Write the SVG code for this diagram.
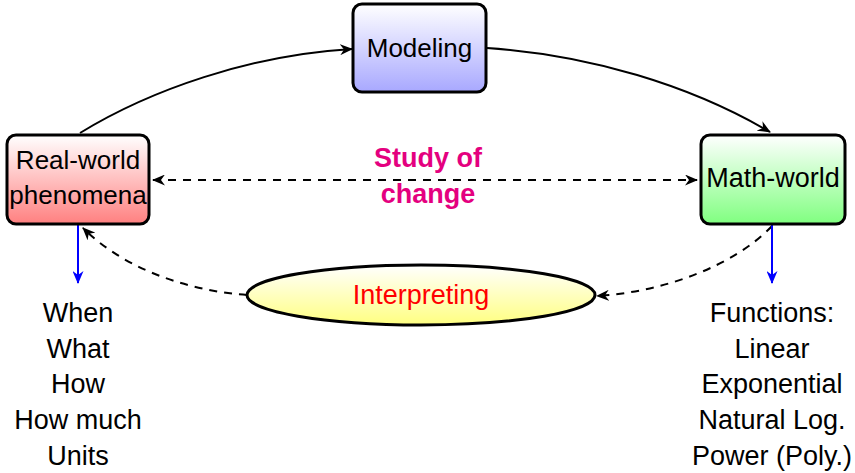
<svg xmlns="http://www.w3.org/2000/svg" width="855" height="473" viewBox="0 0 855 473">
<style>
.box{stroke:#000;stroke-width:3}
.t{font-family:"Liberation Sans",Arial,sans-serif;font-size:26px;text-anchor:middle;fill:#000}
.l{font-size:27px}
.red{fill:#ff0000}
.sc{font-family:"Liberation Sans",Arial,sans-serif;font-size:27px;font-weight:bold;text-anchor:middle;fill:#e4007f}
.c{fill:none;stroke:#000;stroke-width:2}
.d{stroke-dasharray:8 7}
.b{fill:none;stroke:#0000ff;stroke-width:2}
</style>
<defs>
<linearGradient id="gr" x1="0" y1="0" x2="0" y2="1"><stop offset="0" stop-color="#ffffff"/><stop offset="1" stop-color="#ff8080"/></linearGradient>
<linearGradient id="gb" x1="0" y1="0" x2="0" y2="1"><stop offset="0" stop-color="#ffffff"/><stop offset="1" stop-color="#a8a8ff"/></linearGradient>
<linearGradient id="gg" x1="0" y1="0" x2="0" y2="1"><stop offset="0" stop-color="#ffffff"/><stop offset="1" stop-color="#80ff80"/></linearGradient>
<linearGradient id="gy" x1="0" y1="0" x2="0" y2="1"><stop offset="0" stop-color="#ffffff"/><stop offset="1" stop-color="#ffff80"/></linearGradient>
<marker id="ak" viewBox="0 0 13 11" refX="12" refY="5.5" markerWidth="13" markerHeight="11" markerUnits="userSpaceOnUse" orient="auto-start-reverse">
<path d="M0,0 L13,5.5 L0,11 L4,5.5 z" fill="#000"/>
</marker>
<marker id="ab" viewBox="0 0 13 11" refX="12" refY="5.5" markerWidth="13" markerHeight="11" markerUnits="userSpaceOnUse" orient="auto">
<path d="M0,0 L13,5.5 L0,11 L4,5.5 z" fill="#0000ff"/>
</marker>
</defs>

<g id="connectors">
<path class="c" d="M80,133 C150,90 250,55 352,49" marker-end="url(#ak)"/>
<path class="c" d="M487,48 C590,55 690,85 770,132" marker-end="url(#ak)"/>
<path class="c d" d="M153,180 L697,180" marker-start="url(#ak)" marker-end="url(#ak)"/>
<path class="c d" d="M772,226 C735,265 665,292 597,296" marker-end="url(#ak)"/>
<path class="c d" d="M247,295 C180,290 120,265 83,228" marker-end="url(#ak)"/>
<path class="b" d="M78,225 L78,283" marker-end="url(#ab)"/>
<path class="b" d="M772,225 L772,283" marker-end="url(#ab)"/>
</g>

<g id="modeling">
<rect class="box" x="353" y="4" width="133" height="88" rx="9" fill="url(#gb)"/>
<text class="t" x="419.5" y="57">Modeling</text>
</g>

<g id="realworld">
<rect class="box" x="7" y="135" width="142" height="89" rx="9" fill="url(#gr)"/>
<text class="t" x="78" y="169">Real-world</text>
<text class="t" x="78" y="204">phenomena</text>
</g>

<g id="mathworld">
<rect class="box" x="701" y="135" width="144" height="89" rx="9" fill="url(#gg)"/>
<text class="t l" x="773" y="187">Math-world</text>
</g>

<g id="interpreting">
<ellipse class="box" cx="421" cy="295" rx="174" ry="30" fill="url(#gy)"/>
<text class="t l red" x="421" y="304">Interpreting</text>
</g>

<g id="study">
<text class="sc" x="428" y="167">Study of</text>
<text class="sc" x="428" y="203">change</text>
</g>

<g id="questions">
<text class="t l" x="78" y="322">When</text>
<text class="t l" x="78" y="358">What</text>
<text class="t l" x="78" y="393">How</text>
<text class="t l" x="78" y="429">How much</text>
<text class="t l" x="78" y="465">Units</text>
</g>

<g id="functions">
<text class="t l" x="772" y="322">Functions:</text>
<text class="t l" x="772" y="358">Linear</text>
<text class="t l" x="772" y="393">Exponential</text>
<text class="t l" x="772" y="429">Natural Log.</text>
<text class="t l" x="772" y="465">Power (Poly.)</text>
</g>
</svg>
